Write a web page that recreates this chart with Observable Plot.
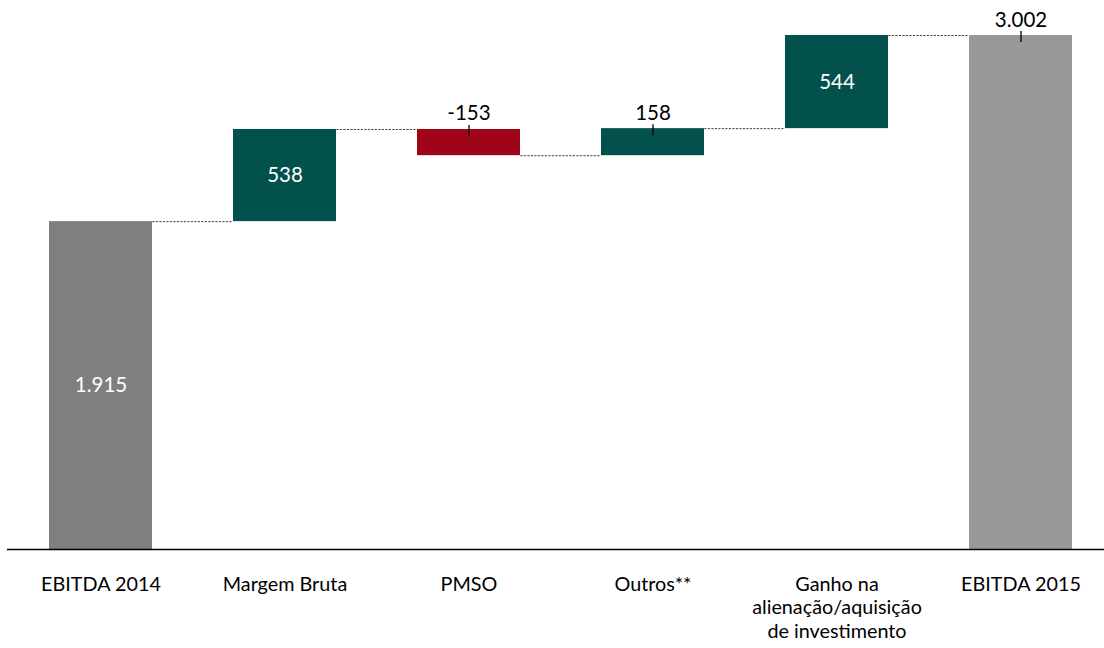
<!DOCTYPE html>
<html>
<head>
<meta charset="utf-8">
<script src="https://cdn.jsdelivr.net/npm/d3@7"></script>
<script src="https://cdn.jsdelivr.net/npm/@observablehq/plot@0.6"></script>
<style>
  html, body { margin: 0; padding: 0; background: #fff; }
  #chart svg { display: block; }
</style>
</head>
<body>
<div id="chart"></div>
<script>
// ---- Data ----
const categories = [
  "EBITDA 2014",
  "Margem Bruta",
  "PMSO",
  "Outros**",
  "Ganho na\nalienação/aquisição\nde investimento",
  "EBITDA 2015"
];
const values = [1915, 538, -153, 158, 544, 3002];
const kinds = ["inicial", "variação", "variação", "variação", "variação", "final"];

// ---- Build waterfall table ----
const rows = [];
let running = 0;
categories.forEach((c, i) => {
  const v = values[i];
  let start, end;
  if (kinds[i] === "variação") { start = running; end = running + v; }
  else { start = 0; end = v; }
  running = end;
  const sign = kinds[i] === "variação" ? (v >= 0 ? "aumento" : "redução") : kinds[i];
  rows.push({cat: c, value: v, start, end, top: Math.max(start, end), mid: (start + end) / 2, sign, kind: kinds[i]});
});
const links = rows.slice(0, -1).map((r, i) => ({from: r.cat, to: rows[i + 1].cat, level: r.end}));

const fmt = d3.formatLocale({decimal: ",", thousands: ".", grouping: [3], currency: ["R$", ""], minus: "-"}).format(",d");
const isOutside = (d) => d.kind === "final" || Math.abs(d.value) < 200;

const xOpts = {type: "band", domain: categories, range: [7.25, 1114.25], paddingInner: 0.44, paddingOuter: 0.22};
const bw = Plot.scale({x: xOpts}).bandwidth;

const font = "Lato, 'Open Sans', 'Liberation Sans', sans-serif";

const chart = Plot.plot({
  width: 1104,
  height: 648,
  marginTop: 35,
  marginBottom: 99,
  marginLeft: 7,
  marginRight: 0,
  style: {fontFamily: font, color: "#000", background: "#fff"},
  x: xOpts,
  y: {domain: [0, 3002], range: [549, 35], axis: null},
  color: {
    domain: ["inicial", "aumento", "redução", "final"],
    range: ["#7f7f7f", "#03514c", "#a00418", "#989898"]
  },
  marks: [
    Plot.barY(rows, {x: "cat", y1: "start", y2: "end", fill: "sign"}),
    Plot.ruleY(links, {x1: "from", x2: "to", y: "level", insetLeft: bw, insetRight: bw,
      stroke: "#404040", strokeWidth: 1, strokeDasharray: "2.2,1.3"}),
    Plot.ruleY([0], {stroke: "#000", strokeWidth: 1.3}),
    Plot.ruleX(rows.filter(isOutside), {x: "cat", y1: "top", y2: "top", insetTop: -4, insetBottom: -7,
      stroke: "#000", strokeWidth: 1.3}),
    Plot.text(rows.filter(isOutside), {x: "cat", y: "top", text: (d) => fmt(d.value),
      lineAnchor: "bottom", dy: -9, fill: "#000", fontSize: 20.5}),
    Plot.text(rows.filter((d) => !isOutside(d)), {x: "cat", y: "mid", text: (d) => fmt(d.value),
      fill: "#fff", fontSize: 20.5}),
    Plot.axisX({tickSize: 0, tickPadding: 24, fontSize: 19.8, lineHeight: 1.21, label: null, fill: "#000"})
  ]
});
document.getElementById("chart").appendChild(chart);
</script>
</body>
</html>
